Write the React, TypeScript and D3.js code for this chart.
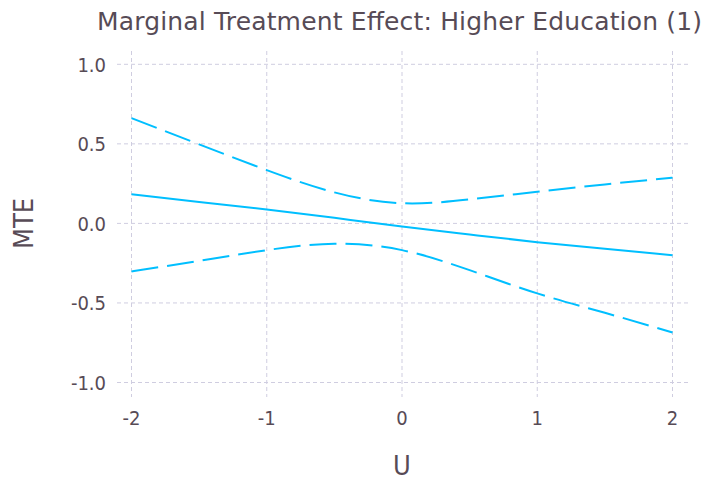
import * as d3 from 'd3';

const W = 706, H = 481;

// values
const uGrid = [-2, -1.5, -1, -0.5, 0, 0.5, 1, 1.5, 2];
const mte = [0.183, 0.135, 0.088, 0.035, -0.02, -0.07, -0.118, -0.16, -0.2];
const upper = [0.662, 0.497, 0.335, 0.195, 0.127, 0.151, 0.199, 0.245, 0.287];
const lower = [-0.302, -0.235, -0.168, -0.128, -0.168, -0.294, -0.44, -0.562, -0.686];

const xTicks = [-2, -1, 0, 1, 2];
const yTicks = [-1.0, -0.5, 0.0, 0.5, 1.0];

const FONT = '"DejaVu Sans Condensed", "DejaVu Sans", sans-serif';
const TXT = '#574b56';
const LINE = '#00bfff';
const GRID = '#cfcde0';

export default function App() {
  const x = d3.scaleLinear().domain([-2, 2]).range([131.5, 672.5]);
  const y = d3.scaleLinear().domain([-1, 1]).range([382.5, 64.3]);
  const left = 117, right = 688, top = 51, bottom = 397;

  const mk = (vals: number[]) =>
    d3
      .line<number>()
      .x((_, i) => x(uGrid[i]))
      .y((v) => y(v))
      .curve(d3.curveNatural)(vals) as string;

  return (
    <svg width={W} height={H} style={{ display: 'block', position: 'absolute', left: 0, top: 0 }}>
      <rect width={W} height={H} fill="#fff" />
      <text x={97} y={29.5} fontFamily='"DejaVu Sans", sans-serif' fontSize={25} fill={TXT} textLength={605} lengthAdjust="spacing">
        Marginal Treatment Effect: Higher Education (1)
      </text>

      {/* grid */}
      {xTicks.map((t) => (
        <line key={'gx' + t} x1={x(t)} x2={x(t)} y1={top} y2={bottom} stroke={GRID} strokeWidth={1} strokeDasharray="4,3" />
      ))}
      {yTicks.map((t) => (
        <line key={'gy' + t} x1={left} x2={right} y1={y(t)} y2={y(t)} stroke={GRID} strokeWidth={1} strokeDasharray="4,3" />
      ))}

      {/* tick labels */}
      {xTicks.map((t) => (
        <text key={'tx' + t} x={x(t)} y={425} textAnchor="middle" fontFamily={FONT} fontSize={20} fill={TXT}>
          {String(t)}
        </text>
      ))}
      {yTicks.map((t) => (
        <text key={'ty' + t} x={106} y={y(t) + 7.5} textAnchor="end" fontFamily={FONT} fontSize={20} fill={TXT}>
          {t.toFixed(1)}
        </text>
      ))}

      {/* axis titles */}
      <text x={402} y={475} textAnchor="middle" fontFamily={FONT} fontSize={27} fill={TXT}>U</text>
      <text transform={`translate(33,${y(0)}) rotate(-90)`} textAnchor="middle" fontFamily={FONT} fontSize={27} fill={TXT}>MTE</text>

      {/* series */}
      <path d={mk(upper)} fill="none" stroke={LINE} strokeWidth={2} strokeDasharray="27,9" />
      <path d={mk(mte)} fill="none" stroke={LINE} strokeWidth={2} />
      <path d={mk(lower)} fill="none" stroke={LINE} strokeWidth={2} strokeDasharray="27,9" />
    </svg>
  );
}
